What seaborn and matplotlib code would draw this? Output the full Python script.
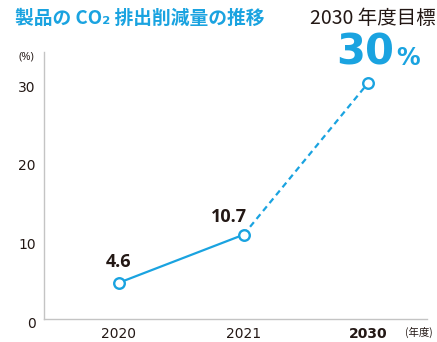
import matplotlib
matplotlib.use("Agg")
import matplotlib.pyplot as plt
import matplotlib.transforms as mtransforms
import seaborn as sns
import pandas as pd

years = ["2020", "2021", "2030"]
values = [4.6, 10.7, 30.0]
value_labels = ["4.6", "10.7", ""]
yticks = [0, 10, 20, 30]

BLUE = "#1aa3e0"
DARK = "#231815"
GRAY = "#c4c4c4"

sns.set_theme(style="white")
plt.rcParams["font.family"] = ["Open Sans", "Noto Sans CJK JP", "DejaVu Sans"]
CJK = ["Noto Sans CJK JP", "DejaVu Sans"]

df = pd.DataFrame({"pos": list(range(len(years))), "year": years, "value": values})
actual = df.iloc[:2]
target = df.iloc[1:]

fig = plt.figure(figsize=(4.37, 3.42), dpi=100)
ax = fig.add_axes([0.1007, 0.0673, 0.8763, 0.7807])

sns.lineplot(data=actual, x="pos", y="value", ax=ax, color=BLUE, linewidth=1.6, zorder=2)
sns.lineplot(data=target, x="pos", y="value", ax=ax, color=BLUE, linewidth=1.6,
             linestyle=(0, (2.7, 1.9)), zorder=2)
sns.scatterplot(data=df, x="pos", y="value", ax=ax, s=58, facecolor="white",
                edgecolor=BLUE, linewidth=1.7, zorder=3)

offsets = {0: (0.0, 1.5), 1: (-0.12, 1.15)}
for p, v, lab in zip(df["pos"], df["value"], value_labels):
    if lab:
        dx, dy = offsets[p]
        ax.text(p + dx, v + dy, lab, ha="center", va="bottom",
                fontsize=13, fontweight="bold", color=DARK)

ax.set_xlim(-0.6, 2.47)
ax.set_ylim(0, 33.9)
ax.set_yticks(yticks)
ax.set_yticklabels([str(t) for t in yticks])
ax.set_xticks(df["pos"])
ax.set_xticklabels(years)
for lbl in ax.get_xticklabels() + ax.get_yticklabels():
    lbl.set_family("DejaVu Sans")
for i, lbl in enumerate(ax.get_xticklabels()):
    if years[i] == "2030":
        lbl.set_fontweight("bold")
ax.tick_params(axis="both", length=0, labelsize=10, colors=DARK)
ax.tick_params(axis="x", pad=6)
ax.tick_params(axis="y", pad=6)
shift = mtransforms.ScaledTranslation(0, -2.5 / 72, fig.dpi_scale_trans)
for lbl in ax.get_yticklabels():
    lbl.set_transform(lbl.get_transform() + shift)
ax.set_xlabel("")
ax.set_ylabel("")
for side in ["top", "right"]:
    ax.spines[side].set_visible(False)
for side in ["left", "bottom"]:
    ax.spines[side].set_color(GRAY)
    ax.spines[side].set_linewidth(1)
ax.grid(False)

fig.text(0.035, 0.947, "製品の CO₂ 排出削減量の推移", fontsize=13.5, fontweight="bold",
         color=BLUE, va="center", ha="left", family=CJK)
fig.text(0.998, 0.947, "2030 年度目標", fontsize=14, color=DARK, va="center", ha="right",
         family=CJK)
fig.text(0.903, 0.81, "30", fontsize=30, fontweight="bold", color=BLUE, va="baseline",
         ha="right", family="DejaVu Sans")
fig.text(0.906, 0.81, "%", fontsize=17, fontweight="bold", color=BLUE, va="baseline",
         ha="left", family="DejaVu Sans")
fig.text(0.061, 0.833, "(%)", fontsize=8, color=DARK, va="center", ha="center")
fig.text(0.99, 0.028, "(年度)", fontsize=7.5, color=DARK, va="center", ha="right",
         family=CJK)

fig.savefig("out.png", dpi=100)
